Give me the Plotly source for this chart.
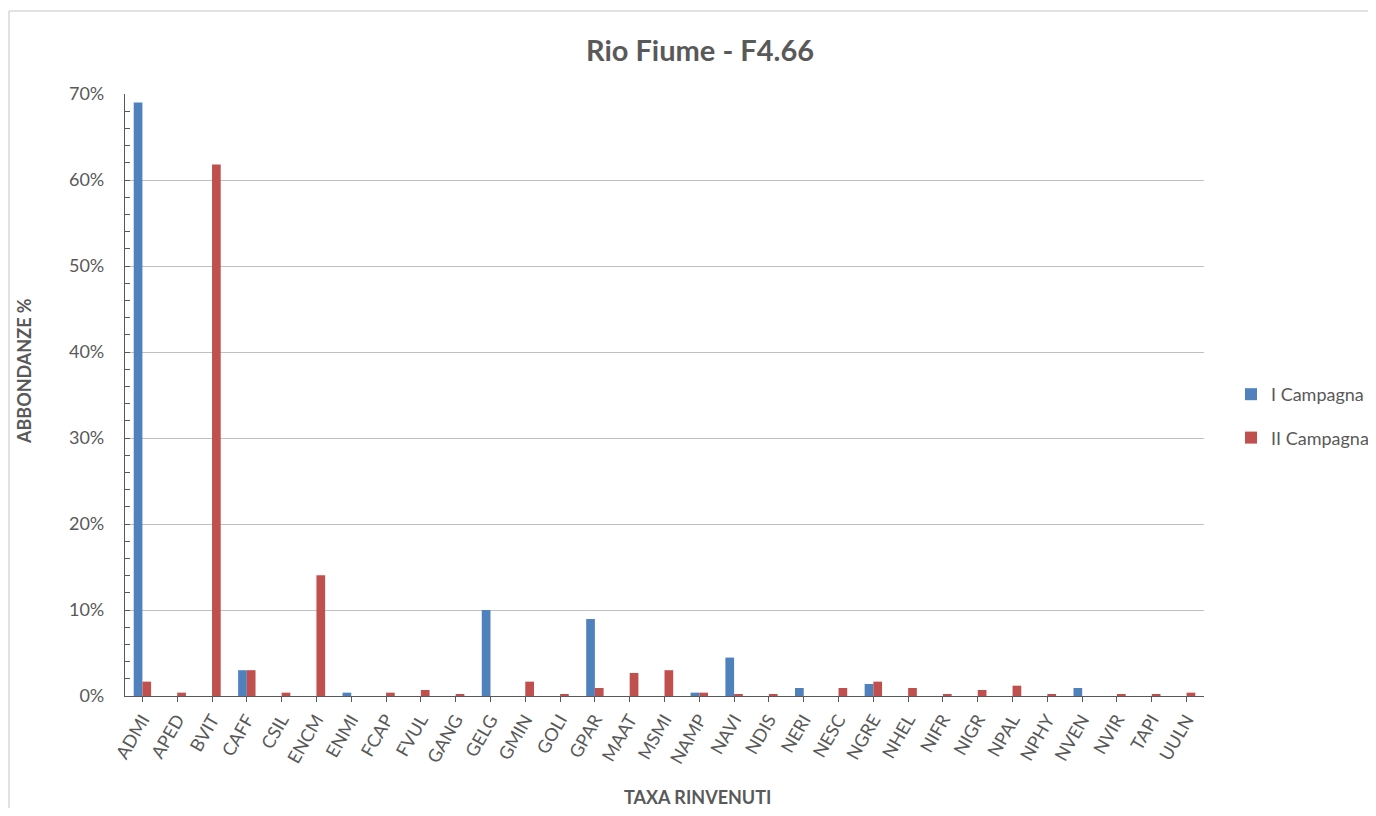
import plotly.graph_objects as go

categories = ["ADMI", "APED", "BVIT", "CAFF", "CSIL", "ENCM", "ENMI", "FCAP", "FVUL", "GANG",
              "GELG", "GMIN", "GOLI", "GPAR", "MAAT", "MSMI", "NAMP", "NAVI", "NDIS", "NERI",
              "NESC", "NGRE", "NHEL", "NIFR", "NIGR", "NPAL", "NPHY", "NVEN", "NVIR", "TAPI", "UULN"]

campagna_1 = [0.690, 0, 0, 0.030, 0, 0, 0.0039, 0, 0, 0,
              0.100, 0, 0, 0.0895, 0, 0, 0.0039, 0.0447, 0, 0.0093,
              0, 0.014, 0, 0, 0, 0, 0, 0.0093, 0, 0, 0]

campagna_2 = [0.0167, 0.0039, 0.618, 0.030, 0.0039, 0.1405, 0, 0.0039, 0.0070, 0.0023,
              0, 0.0167, 0.0023, 0.0093, 0.0268, 0.030, 0.0039, 0.0023, 0.0023, 0,
              0.0093, 0.0167, 0.0093, 0.0023, 0.0070, 0.0120, 0.0023, 0, 0.0023, 0.0023, 0.0039]

series_names = ["I Campagna", "II Campagna"]
series_colors = ["#4F81BD", "#C0504D"]

FONT = "Lato, 'Open Sans', sans-serif"
GRAY = "#595959"

W, H = 1368, 800

fig = go.Figure()
for name, vals, col in zip(series_names, [campagna_1, campagna_2], series_colors):
    fig.add_trace(go.Bar(x=categories, y=vals, name=name, marker_color=col,
                         marker_line_width=0, legendgroup=name))

fig.update_layout(
    width=W, height=H,
    paper_bgcolor="white", plot_bgcolor="white",
    margin=dict(l=117, r=W - 1196, t=86, b=H - 688, autoexpand=False),
    barmode="group", bargap=0.5, bargroupgap=0,
    font=dict(family=FONT, color=GRAY, size=18),
    title=dict(text="<b>Rio Fiume - F4.66</b>", x=692 / W, xanchor="center",
               y=1 - 43 / H, yanchor="middle", font=dict(size=29, color=GRAY, family=FONT)),
    legend=dict(xref="container", yref="container", x=1223 / W, xanchor="left",
                y=1 - 408 / H, yanchor="middle",
                font=dict(size=18, color=GRAY), tracegroupgap=17,
                itemwidth=30, bgcolor="rgba(0,0,0,0)"),
    showlegend=True,
)

fig.update_xaxes(
    showline=True, linecolor=GRAY, linewidth=1.3,
    ticks="outside", ticklen=5, tickcolor=GRAY, tickwidth=1.3,
    tickangle=-60, tickfont=dict(size=18, color=GRAY),
    showgrid=False,
)
fig.update_yaxes(
    range=[0, 0.70], tickformat=".0%", dtick=0.10, tick0=0,
    showline=True, linecolor=GRAY, linewidth=1.3,
    ticks="inside", ticklen=5, tickcolor=GRAY, tickwidth=1.3,
    minor=dict(ticks="inside", ticklen=5, tickcolor=GRAY, dtick=0.02, showgrid=False),
    showgrid=True, gridcolor="#C0C0C0", gridwidth=1,
    tickfont=dict(size=18, color=GRAY), ticklabelstandoff=16,
    zeroline=False,
)

# y-axis title
fig.add_annotation(text="<b>ABBONDANZE %</b>", xref="paper", yref="paper",
                   x=-0.0935, y=0.54, textangle=-90, showarrow=False,
                   font=dict(size=18, color=GRAY, family=FONT), xanchor="center", yanchor="middle")
# x-axis title
fig.add_annotation(text="<b>TAXA RINVENUTI</b>", xref="paper", yref="paper",
                   x=0.531, y=-0.168, showarrow=False,
                   font=dict(size=18, color=GRAY, family=FONT), xanchor="center", yanchor="middle")

# chart border: left and top edges
fig.add_shape(type="line", xref="paper", yref="paper",
              x0=-0.1075, x1=-0.1075, y0=-0.3, y1=1.138,
              line=dict(color="#D9D9D9", width=1.5), layer="below")
fig.add_shape(type="line", xref="paper", yref="paper",
              x0=-0.1075, x1=1.3, y0=1.138, y1=1.138,
              line=dict(color="#D9D9D9", width=1.5), layer="below")

fig.write_html("out.html")
